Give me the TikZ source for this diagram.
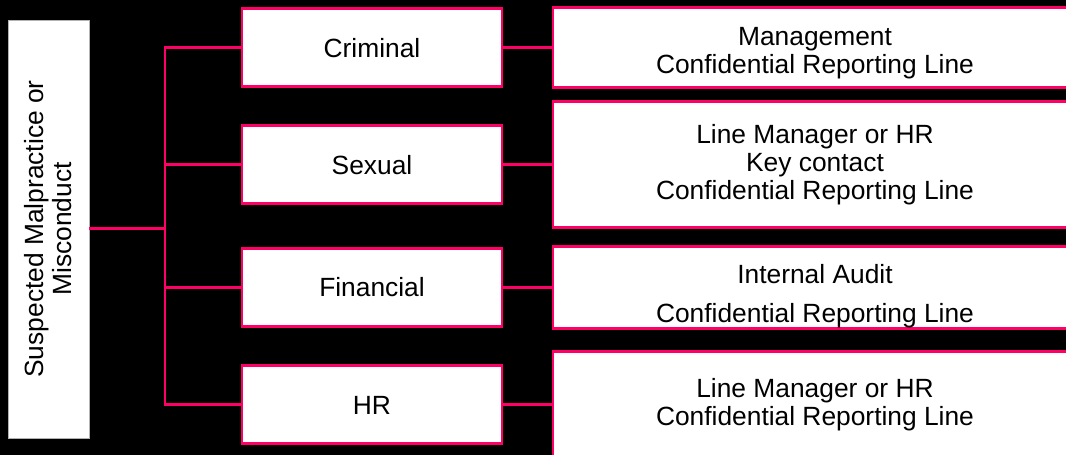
\documentclass[tikz,border=0pt]{standalone}
\usepackage{fontspec}
\setmainfont{Liberation Sans}
\definecolor{pinkline}{RGB}{255,0,102}
\begin{document}
\begin{tikzpicture}[
  box/.style={draw=pinkline,line width=1.7pt,fill=white,align=center,inner sep=0pt},
  link/.style={draw=pinkline,line width=1.7pt}]

\useasboundingbox (0,0) rectangle (21.32,9.1);
\fill[black] (0,0) rectangle (21.32,9.1);
\clip (0,0) rectangle (21.32,9.1);
\fontsize{15}{16}\selectfont

%source box on the left, text turned upright
\node[fill=white,draw=gray!60,line width=0.4pt,minimum width=1.62cm,minimum height=8.36cm] (src) at (0.97,4.52) {};
\node[rotate=90,align=center] (srctext) at (src.center) {Suspected Malpractice or\\Misconduct};

%kinds of misconduct
\node[box,minimum width=5.2cm,minimum height=1.56cm] (criminal) at (7.44,8.14) {Criminal};
\node[box,minimum width=5.2cm,minimum height=1.56cm] (sexual) at (7.44,5.8) {Sexual};
\node[box,minimum width=5.2cm,minimum height=1.56cm] (financial) at (7.44,3.35) {Financial};
\node[box,minimum width=5.2cm,minimum height=1.56cm] (hr) at (7.44,1.0) {HR};

%where to report
\node[box,minimum width=10.48cm,minimum height=1.6cm] (repcriminal) at (16.3,8.14) {\rule{0pt}{16pt}Management\\Confidential Reporting Line};
\node[box,minimum width=10.48cm,minimum height=2.52cm] (repsexual) at (16.3,5.8) {Line Manager or HR\\Key contact\\Confidential Reporting Line};
\node[box,minimum width=10.48cm,minimum height=1.6cm] (repfinancial) at (16.3,3.35) {\rule{0pt}{21pt}Internal Audit\\[6pt]Confidential Reporting Line};
\node[box,minimum width=10.48cm,minimum height=2.12cm] (rephr) at (16.3,1.0) {Line Manager or HR\\Confidential Reporting Line};

%tree of connectors
\coordinate (split) at (3.3,4.52);
\foreach \n in {criminal,sexual,financial,hr}
  \draw[link] (src.east) -- (split) |- (\n.west);

\draw[link] (criminal.east) -- (repcriminal.west);
\draw[link] (sexual.east) -- (repsexual.west);
\draw[link] (financial.east) -- (repfinancial.west);
\draw[link] (hr.east) -- (rephr.west);

\end{tikzpicture}
\end{document}
